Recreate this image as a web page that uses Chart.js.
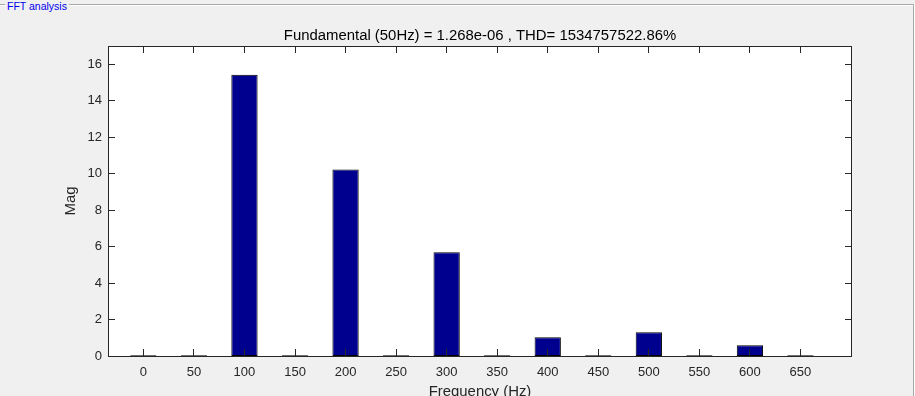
<!DOCTYPE html>
<html><head><meta charset="utf-8">
<script src="https://cdn.jsdelivr.net/npm/chart.js@4.4.1/dist/chart.umd.min.js"></script>
<style>
html,body{margin:0;padding:0;background:#f0f0f0;width:915px;height:396px;overflow:hidden;position:relative}
canvas{position:absolute;left:0;top:0}
.ln{position:absolute}
#lg{position:absolute;left:5px;top:0;padding:0 2px;background:#f0f0f0;color:#0000ee;font:10.5px "Liberation Sans",Arial,sans-serif;line-height:13px;white-space:nowrap}
</style></head><body>
<canvas id="c" width="915" height="396"></canvas>
<div class="ln" style="left:0;top:4px;width:914px;height:1px;background:#a8a8a8"></div>
<div class="ln" style="left:0;top:5px;width:913px;height:1px;background:#ffffff"></div>
<div class="ln" style="left:913px;top:4px;width:1px;height:392px;background:#a8a8a8"></div>
<div class="ln" style="left:914px;top:4px;width:1px;height:392px;background:#ffffff"></div>
<span id="lg">FFT analysis</span>
<script>
const freqs = [0, 50, 100, 150, 200, 250, 300, 350, 400, 450, 500, 550, 600, 650];
const mags  = [0.04, 0.04, 15.42, 0.04, 10.23, 0.04, 5.69, 0.04, 1.03, 0.04, 1.30, 0.04, 0.59, 0.04];
const xTicks = [0, 50, 100, 150, 200, 250, 300, 350, 400, 450, 500, 550, 600, 650];
const yTicks = [0, 2, 4, 6, 8, 10, 12, 14, 16];
const titleText = 'Fundamental (50Hz) = 1.268e-06 , THD= 1534757522.86%';
const xLabel = 'Frequency (Hz)';
const yLabel = 'Mag';

const FONT = '"Liberation Sans", Arial, sans-serif';
const AX = '#262626';

const matlabAxes = {
  id: 'matlabAxes',
  beforeDatasetsDraw(chart) {
    const a = chart.chartArea, ctx = chart.ctx;
    ctx.save();
    ctx.fillStyle = '#ffffff';
    ctx.fillRect(a.left, a.top, a.right - a.left, a.bottom - a.top);
    ctx.restore();
  },
  afterDraw(chart) {
    const a = chart.chartArea, ctx = chart.ctx;
    const xs = chart.scales.x, ys = chart.scales.y;
    ctx.save();
    ctx.strokeStyle = AX;
    ctx.lineWidth = 1;
    ctx.strokeRect(a.left + 0.5, a.top + 0.5, a.right - a.left, a.bottom - a.top);
    ctx.beginPath();
    xTicks.forEach(v => {
      const p = Math.floor(xs.getPixelForValue(v)) + 0.5;
      ctx.moveTo(p, a.bottom); ctx.lineTo(p, a.bottom - 7);
      ctx.moveTo(p, a.top); ctx.lineTo(p, a.top + 7);
    });
    yTicks.forEach(v => {
      const p = Math.floor(ys.getPixelForValue(v)) + 0.5;
      ctx.moveTo(a.left, p); ctx.lineTo(a.left + 7, p);
      ctx.moveTo(a.right + 1, p); ctx.lineTo(a.right - 6, p);
    });
    ctx.stroke();
    const cx = (a.left + a.right + 1) / 2;
    ctx.fillStyle = '#000000';
    ctx.font = '14.9px ' + FONT;
    ctx.textAlign = 'center';
    ctx.textBaseline = 'alphabetic';
    ctx.fillText(titleText, cx, 39.5);
    ctx.fillStyle = AX;
    ctx.fillText(xLabel, cx, 395.5);
    ctx.translate(74.5, (a.top + a.bottom) / 2);
    ctx.rotate(-Math.PI / 2);
    ctx.fillText(yLabel, 0, 0);
    ctx.restore();
  }
};

new Chart(document.getElementById('c'), {
  type: 'bar',
  data: {
    datasets: [{
      data: freqs.map((f, i) => ({ x: f, y: mags[i] })),
      backgroundColor: '#00008f',
      borderColor: '#000000',
      borderWidth: 1,
      borderSkipped: false,
      inflateAmount: 0,
      barPercentage: 0.52,
      categoryPercentage: 1
    }]
  },
  options: {
    responsive: false,
    animation: false,
    devicePixelRatio: 1,
    layout: { padding: { left: 0, top: 46, right: 64, bottom: 0 } },
    plugins: { legend: { display: false }, tooltip: { enabled: false }, title: { display: false } },
    scales: {
      x: {
        type: 'linear', min: -35, max: 700, offset: false,
        grid: { display: false, drawTicks: false }, border: { display: false },
        afterBuildTicks: s => { s.ticks = xTicks.map(v => ({ value: v })); },
        afterFit: s => { s.height = 40; },
        ticks: { padding: 9, color: AX, font: { family: FONT, size: 13 }, maxRotation: 0, autoSkip: false, callback: v => String(v) }
      },
      y: {
        type: 'linear', min: 0, max: 17,
        grid: { display: false, drawTicks: false }, border: { display: false },
        afterBuildTicks: s => { s.ticks = yTicks.map(v => ({ value: v })); },
        afterFit: s => { s.width = 108; },
        ticks: { padding: 6, color: AX, font: { family: FONT, size: 13 }, callback: v => String(v) }
      }
    }
  },
  plugins: [matlabAxes]
});
</script>
</body></html>
